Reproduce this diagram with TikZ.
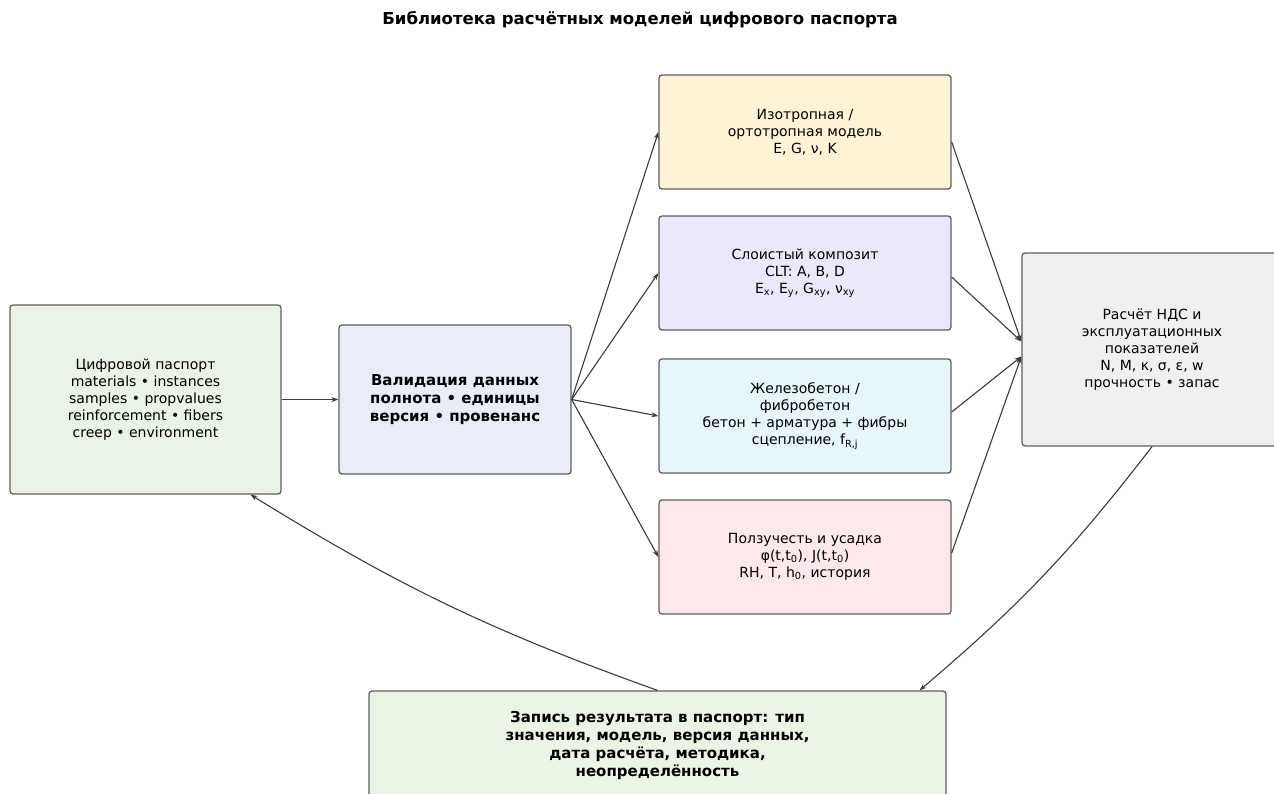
\documentclass[tikz,border=0pt]{standalone}
\usepackage{fontspec}
\setmainfont{DejaVu Sans}
\usetikzlibrary{arrows.meta,calc}
\definecolor{bordc}{RGB}{95,95,95}
\definecolor{arrc}{RGB}{60,60,60}
\definecolor{fpas}{RGB}{233,243,230}
\definecolor{fval}{RGB}{232,237,249}
\definecolor{fiso}{RGB}{255,243,214}
\definecolor{flam}{RGB}{237,231,251}
\definecolor{frc}{RGB}{230,246,250}
\definecolor{fcr}{RGB}{253,232,234}
\definecolor{fres}{RGB}{240,240,240}
\definecolor{fwr}{RGB}{234,245,229}
\tikzset{
  boxst/.style={draw=bordc, line width=1.3pt, rounded corners=3pt, align=center,
    font=\fontsize{14}{17}\selectfont, inner sep=4pt},
  boldbox/.style={boxst, font=\bfseries\fontsize{15}{18}\selectfont},
  arrst/.style={draw=arrc, line width=1.1pt, -{Stealth[length=7pt,width=5pt]}}
}
\begin{document}
\begin{tikzpicture}[x=1pt,y=-1pt]
\useasboundingbox (0,0) rectangle (1274,793);
\clip (0,0) rectangle (1274,793);
\fill[white] (0,0) rectangle (1274,793);
\node[font=\bfseries\fontsize{16.5}{20}\selectfont] (title) at (640,20) {Библиотека расчётных моделей цифрового паспорта};
\node[boxst, fill=fpas, minimum width=271pt, minimum height=189pt] (pas) at (145.5,399.5)
  {Цифровой паспорт\\materials • instances\\samples • propvalues\\reinforcement • fibers\\creep • environment};
\node[boldbox, fill=fval, minimum width=232pt, minimum height=149pt] (val) at (455,399.5)
  {Валидация данных\\полнота • единицы\\версия • провенанс};
\node[boxst, fill=fiso, minimum width=292pt, minimum height=114pt] (m1) at (805,132)
  {Изотропная /\\ортотропная модель\\E, G, ν, K};
\node[boxst, fill=flam, minimum width=292pt, minimum height=114pt] (m2) at (805,273)
  {Слоистый композит\\CLT: A, B, D\\E\textsubscript{x}, E\textsubscript{y}, G\textsubscript{xy}, ν\textsubscript{xy}};
\node[boxst, fill=frc, minimum width=292pt, minimum height=114pt] (m3) at (805,416)
  {Железобетон /\\фибробетон\\бетон + арматура + фибры\\сцепление, f\textsubscript{R,j}};
\node[boxst, fill=fcr, minimum width=292pt, minimum height=114pt] (m4) at (805,557)
  {Ползучесть и усадка\\φ(t,t\textsubscript{0}), J(t,t\textsubscript{0})\\RH, T, h\textsubscript{0}, история};
\node[boxst, fill=fres, minimum width=260pt, minimum height=193pt] (res) at (1152,349.5)
  {Расчёт НДС и\\эксплуатационных\\показателей\\N, M, κ, σ, ε, w\\прочность • запас};
\node[boldbox, fill=fwr, minimum width=577pt, minimum height=108pt] (wr) at (657.5,745)
  {Запись результата в паспорт: тип\\значения, модель, версия данных,\\дата расчёта, методика,\\неопределённость};
\coordinate (rin1) at ($(res.west)+(0,-8)$);
\coordinate (rin2) at ($(res.west)+(0,7)$);
\coordinate (wrin) at ($(wr.north)+(262,0)$);
\coordinate (resout) at (res.south);
\coordinate (pasin) at ($(pas.south)+(105,0)$);
\draw[arrst] (pas.east) -- (val.west);
\draw[arrst] (val.east) -- (m1.west);
\draw[arrst] (val.east) -- (m2.west);
\draw[arrst] (val.east) -- (m3.west);
\draw[arrst] (val.east) -- (m4.west);
\draw[arrst] ($(m1.east)+(0,10)$) -- (rin1);
\draw[arrst] ($(m2.east)+(0,4)$) -- (rin1);
\draw[arrst] ($(m3.east)+(0,-4)$) -- (rin2);
\draw[arrst] ($(m4.east)+(0,-4)$) -- (rin2);
\draw[arrst] (resout) to[bend left=6] (wrin);
\draw[arrst] (wr.north) to[bend left=6] (pasin);
\end{tikzpicture}
\end{document}
